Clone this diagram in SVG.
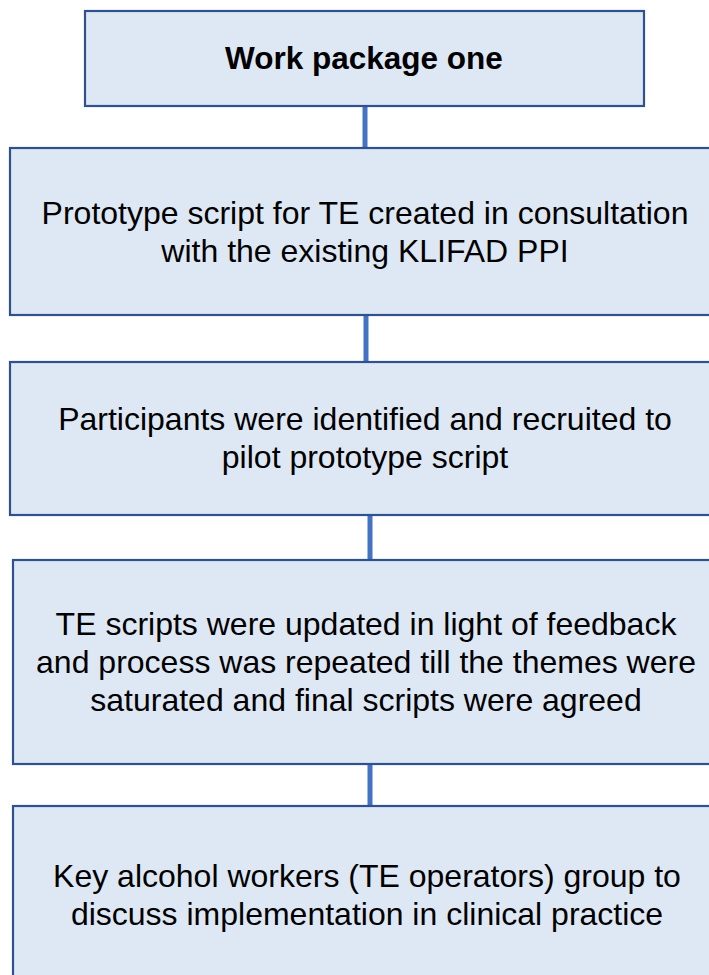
<svg xmlns="http://www.w3.org/2000/svg" width="709" height="975" viewBox="0 0 709 975">
  <style>
    .box { fill: #DEE8F4; stroke: #2F528F; stroke-width: 2.2; }
    .txt { font-family: "Liberation Sans", Arial, sans-serif; font-size: 32px; fill: #000; text-anchor: middle; }
    .title { font-weight: bold; font-size: 31.5px; }
    .link { stroke: #4472C4; stroke-width: 5; fill: none; }
  </style>
  <rect width="709" height="975" fill="#FFFFFF"/>

  <g id="connectors">
    <line class="link" x1="365" y1="106" x2="365" y2="148"/>
    <line class="link" x1="366" y1="315" x2="366" y2="362"/>
    <line class="link" x1="370" y1="515" x2="370" y2="560"/>
    <line class="link" x1="370" y1="762" x2="370" y2="806"/>
  </g>

  <g id="node-work-package">
    <rect class="box" x="85" y="11" width="559" height="95"/>
    <text class="txt title" x="364" y="69">Work package one</text>
  </g>

  <g id="node-prototype">
    <rect class="box" x="10" y="148" width="712" height="167"/>
    <text class="txt" x="365" y="224">Prototype script for TE created in consultation</text>
    <text class="txt" x="365" y="262">with the existing KLIFAD PPI</text>
  </g>

  <g id="node-participants">
    <rect class="box" x="10" y="362" width="712" height="153"/>
    <text class="txt" x="365" y="430">Participants were identified and recruited to</text>
    <text class="txt" x="365" y="468">pilot prototype script</text>
  </g>

  <g id="node-updated">
    <rect class="box" x="13" y="560" width="712" height="204"/>
    <text class="txt" x="366" y="635">TE scripts were updated in light of feedback</text>
    <text class="txt" x="366" y="673">and process was repeated till the themes were</text>
    <text class="txt" x="366" y="711">saturated and final scripts were agreed</text>
  </g>

  <g id="node-operators">
    <rect class="box" x="13" y="806" width="712" height="190"/>
    <text class="txt" x="367" y="887">Key alcohol workers (TE operators) group to</text>
    <text class="txt" x="367" y="925">discuss implementation in clinical practice</text>
  </g>
</svg>
